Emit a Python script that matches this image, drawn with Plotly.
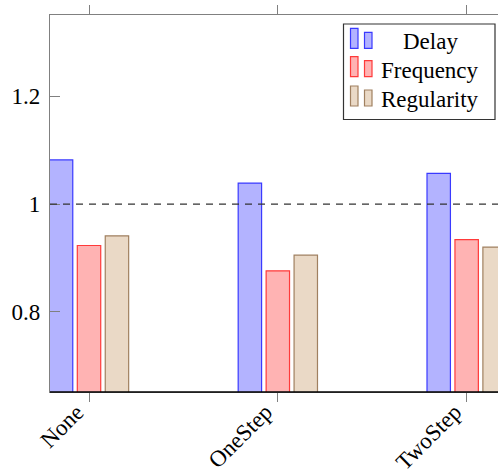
import plotly.graph_objects as go

categories = ["None", "OneStep", "TwoStep"]
series_names = ["Delay", "Frequency", "Regularity"]
delay = [1.082, 1.039, 1.057]
frequency = [0.923, 0.876, 0.934]
regularity = [0.941, 0.905, 0.920]
y_ticks = [0.8, 1.0, 1.2]
y_tick_labels = ["0.8", "1", "1.2"]
ref_value = 1.0

fills = ["#b3b3ff", "#ffb3b3", "#ead9c6"]
edges = ["#3a3aff", "#ff3a3a", "#a08060"]
offsets = [-0.148, 0.0, 0.148]
bar_w = 0.124

W, H = 498, 475
L, R, T, B = 50, 0, 15, 83
pw, ph = W - L - R, H - T - B

def px(x):
    return (x - L) / pw

def py(y):
    return (H - B - y) / ph

FONT = "Times New Roman"

fig = go.Figure()
pos = list(range(len(categories)))
for name, vals, f, e, o in zip(series_names, [delay, frequency, regularity], fills, edges, offsets):
    fig.add_trace(go.Bar(
        x=pos, y=vals, base=0, name=name,
        width=bar_w, offset=o - bar_w / 2,
        marker=dict(color=f, line=dict(color=e, width=1.2)),
        showlegend=False,
    ))

# reference dashed line
fig.add_shape(type="line", xref="paper", yref="y", x0=0, x1=1, y0=ref_value, y1=ref_value,
              line=dict(color="#333333", width=1.2, dash="7px,6px"), layer="above")
# bottom axis line (black)
fig.add_shape(type="line", xref="paper", yref="paper", x0=0, x1=1, y0=0, y1=0,
              line=dict(color="#000000", width=1.3), layer="above")

# custom legend
fig.add_shape(type="rect", xref="paper", yref="paper",
              x0=px(343.5), x1=px(495), y0=py(24), y1=py(119.5),
              line=dict(color="#333333", width=1.2), fillcolor="white", layer="above")
rows_y = [48.3, 76.7, 106]
for name, f, e, base_y, cy in zip(series_names, fills, edges, rows_y, [41.5, 70.5, 99]):
    fig.add_shape(type="rect", xref="paper", yref="paper",
                  x0=px(350.5), x1=px(358), y0=py(base_y), y1=py(base_y - 20),
                  line=dict(color=e, width=1.2), fillcolor=f, layer="above")
    fig.add_shape(type="rect", xref="paper", yref="paper",
                  x0=px(364.5), x1=px(372), y0=py(base_y), y1=py(base_y - 16),
                  line=dict(color=e, width=1.2), fillcolor=f, layer="above")
    fig.add_annotation(xref="paper", yref="paper", x=px(430), y=py(cy), text=name,
                       showarrow=False, xanchor="center", yanchor="middle",
                       font=dict(family=FONT, size=23, color="black"))

# rotated category labels
for p, c in zip(pos, categories):
    fig.add_annotation(xref="x", yref="paper", x=p, y=py(397), text=c,
                       showarrow=False, xanchor="right", yanchor="top", textangle=-45,
                       xshift=2, font=dict(family=FONT, size=23, color="black"))

fig.update_layout(
    width=W, height=H,
    margin=dict(l=L, r=R, t=T, b=B, pad=0, autoexpand=False),
    paper_bgcolor="white", plot_bgcolor="white",
    barmode="overlay",
    font=dict(family=FONT, size=23, color="black"),
)
fig.update_xaxes(
    range=[-0.2066, 2.166], automargin=False,
    tickvals=pos, showticklabels=False,
    ticks="outside", ticklen=9, tickcolor="#808080", tickwidth=1,
    showline=True, linecolor="#808080", linewidth=1.3, mirror="ticks",
    showgrid=False, zeroline=False,
)
fig.update_yaxes(
    range=[0.651, 1.351], automargin=False,
    tickvals=y_ticks, ticktext=y_tick_labels,
    ticks="inside", ticklen=10, tickcolor="#808080", tickwidth=1,
    showline=True, linecolor="#808080", linewidth=1.3, mirror=False,
    showgrid=False, zeroline=False,
    tickfont=dict(family=FONT, size=23, color="black"),
    ticklabelstandoff=4,
)

fig.write_html("out.html")
